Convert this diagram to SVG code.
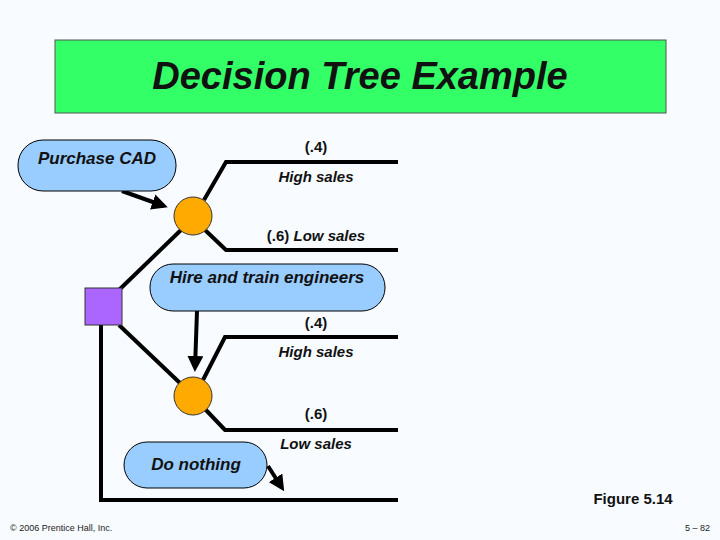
<svg xmlns="http://www.w3.org/2000/svg" width="720" height="540" viewBox="0 0 720 540">
<defs>
<marker id="ah" markerWidth="4" markerHeight="4" refX="3" refY="2" orient="auto" markerUnits="strokeWidth"><path d="M0,0 L4,2 L0,4 z" fill="#000"/></marker>
<style>
.lbl{font-family:"Liberation Sans",Arial,sans-serif;font-size:15px;font-style:italic;font-weight:bold;fill:#111;text-anchor:middle}
.p{font-family:"Liberation Sans",Arial,sans-serif;font-size:15px;font-weight:bold;fill:#111;text-anchor:middle}
.pill{fill:#99CCFF;stroke:#000;stroke-width:1}
.ch{fill:#FFAA00;stroke:#333;stroke-width:1}
.ln{fill:none;stroke:#000;stroke-width:4}
.ar{fill:none;stroke:#000;stroke-width:4;marker-end:url(#ah)}
.nt{font-family:"Liberation Sans",Arial,sans-serif;font-size:17px;font-style:italic;font-weight:bold;fill:#111;text-anchor:middle}
</style>
</defs>
<rect width="720" height="540" fill="#F8FBFF"/>
<g id="title"><rect x="55" y="40" width="611" height="73" fill="#33FF66" stroke="#555" stroke-width="1"/>
<text x="360" y="89" font-family="Liberation Sans,Arial,sans-serif" font-size="38" font-style="italic" font-weight="bold" fill="#111" text-anchor="middle">Decision Tree Example</text></g>
<g id="connectors">
<path class="ln" d="M204,200 L226,162 L398,162"/>
<path class="ln" d="M205,230 L226,250 L398,250"/>
<path class="ln" d="M119,290 L181,230"/>
<path class="ln" d="M119,325 L181,384"/>
<path class="ln" d="M203,380 L225,337 L398,337"/>
<path class="ln" d="M205,409 L225,430 L398,430"/>
<path class="ln" d="M101,325 L101,500 L398,500"/>
<path class="ar" d="M122,191 L164,206"/>
<path class="ar" d="M197,311 L195,368"/>
<path class="ar" d="M268,466 L282,488"/>
</g>
<g id="purchase"><rect class="pill" x="18" y="140" width="158" height="51" rx="25"/><text class="nt" x="97" y="164">Purchase CAD</text></g>
<g id="hire"><rect class="pill" x="150" y="264" width="235" height="47" rx="23"/><text class="nt" x="267" y="283">Hire and train engineers</text></g>
<g id="nothing"><rect class="pill" x="124" y="442" width="143" height="46" rx="23"/><text class="nt" x="196" y="470">Do nothing</text></g>
<g id="chance1"><circle class="ch" cx="193" cy="216" r="19"/></g>
<g id="chance2"><circle class="ch" cx="193" cy="396" r="19"/></g>
<g id="decision"><rect x="85" y="288" width="37" height="37" fill="#AA66FF" stroke="#333" stroke-width="1"/></g>
<g id="labels">
<text class="p" x="316" y="152">(.4)</text>
<text class="lbl" x="316" y="182">High sales</text>
<text class="lbl" x="316" y="241"><tspan font-style="normal">(.6)</tspan> Low sales</text>
<text class="p" x="316" y="328">(.4)</text>
<text class="lbl" x="316" y="357">High sales</text>
<text class="p" x="316" y="419">(.6)</text>
<text class="lbl" x="316" y="449">Low sales</text>
<text x="633" y="504" font-family="Liberation Sans,Arial,sans-serif" font-size="15" font-weight="bold" fill="#111" text-anchor="middle">Figure 5.14</text>
<text x="10" y="531" font-family="Liberation Sans,Arial,sans-serif" font-size="9" fill="#222">© 2006 Prentice Hall, Inc.</text>
<text x="710" y="531" font-family="Liberation Sans,Arial,sans-serif" font-size="9" fill="#222" text-anchor="end">5 – 82</text>
</g>
</svg>
